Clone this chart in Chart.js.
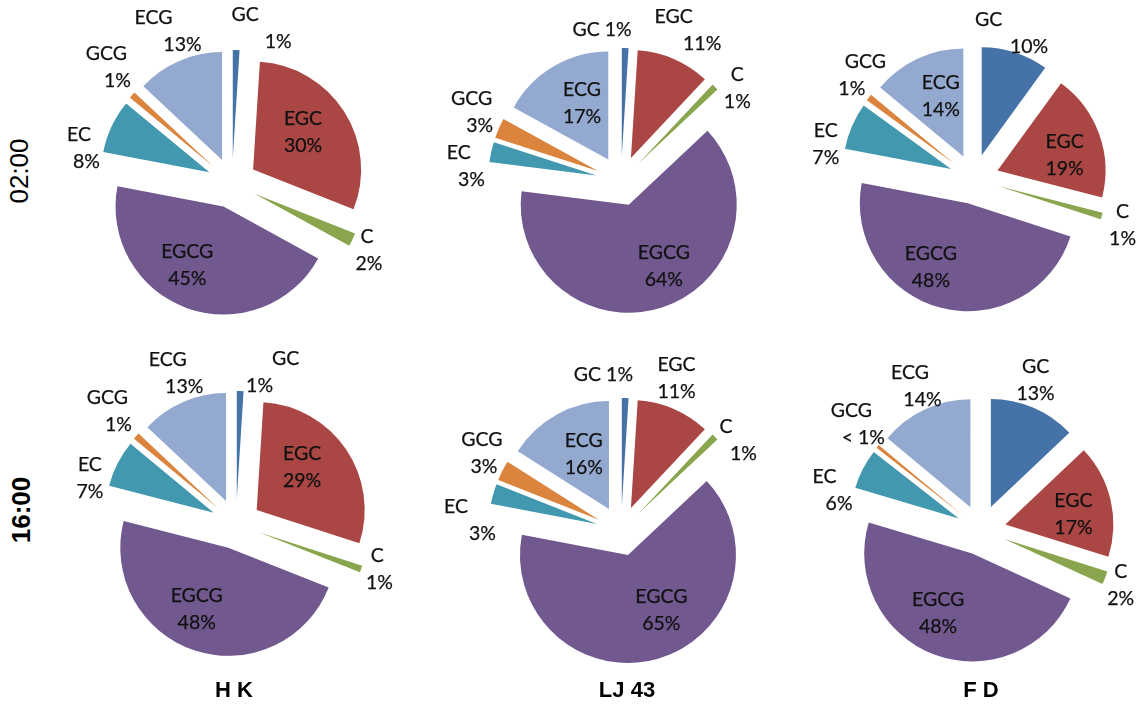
<!DOCTYPE html>
<html>
<head>
<meta charset="utf-8">
<script src="https://cdn.jsdelivr.net/npm/chart.js@4.4.1/dist/chart.umd.min.js"></script>
<style>
html,body{margin:0;padding:0;background:#fff;width:1138px;height:708px;overflow:hidden;}
#stage{position:relative;width:1138px;height:708px;overflow:hidden;}
.pie{position:absolute;}
.layer{position:absolute;left:0;top:0;width:0;height:0;}
.lbl{position:absolute;transform:translate(-50%,-50%);font-family:Lato,"Open Sans",sans-serif;font-size:19.5px;line-height:20px;color:#111;-webkit-text-stroke:0.25px #111;white-space:nowrap;}
.row{position:absolute;font-family:"Liberation Sans",Arial,sans-serif;font-size:26px;color:#000;transform:translate(-50%,-50%) rotate(-90deg);white-space:nowrap;line-height:26px;}
.col{position:absolute;font-family:"Liberation Sans",Arial,sans-serif;font-weight:bold;font-size:22px;color:#000;transform:translate(-50%,-50%);white-space:nowrap;line-height:22px;}
</style>
</head>
<body>
<div id="stage"></div>
<script>
// ---------------- data ----------------
const categories = ['GC', 'EGC', 'C', 'EGCG', 'EC', 'GCG', 'ECG'];
const cultivars = ['H K', 'LJ 43', 'F D'];
const times = ['02:00', '16:00'];

const hk0200 = [1, 30, 2, 45, 8, 1, 13];
const lj0200 = [1, 11, 1, 64, 3, 3, 17];
const fd0200 = [10, 19, 1, 48, 7, 1, 14];
const hk1600 = [1, 29, 1, 48, 7, 1, 13];
const lj1600 = [1, 11, 1, 65, 3, 3, 16];
const fd1600 = [13, 17, 2, 48, 6, 0.5, 14];

// ---------------- style ----------------
const sliceColors = ['#4572A7', '#AA4643', '#89A54E', '#71588F', '#4198AF', '#DB843D', '#93A9CF'];
const RADIUS = 108;
const EXPLODE = 25;
const CANVAS = 360;

// pie centres (layout) and label placement per slice:
// [distance as fraction of radius, angle shift from slice middle (deg), line-2 stagger (px), single line]
const pieCenters = [[232, 183], [621, 181], [974, 179], [236, 524], [621, 531], [981, 530]];
const labelLayouts = [
  [[1.47, 9, 33], [0.815, -3.8, 0], [1.40, 0.7, 2], [0.86, 9, 0], [1.42, -12, 7.5], [1.55, 2.8, 11], [1.53, 0.6, 29]],
  [[1.42, -8.9, 0, true], [1.53, 0.5, 28.5], [1.38, 6.3, 0], [0.88, -8.8, 0], [1.45, -7.1, 12.5], [1.49, 2, 8], [0.815, 4.3, 0]],
  [[1.39, -4.6, 40.5], [0.87, 4.4, 0], [1.44, 1, 0], [0.90, 11.9, 0], [1.41, -10.1, 0], [1.44, 4.3, -13.5], [0.83, 3.5, 0]],
  [[1.45, 11.7, -26], [0.81, -6.7, 0], [1.38, -2.6, 2], [0.86, 7, 0], [1.42, -9.3, 0], [1.55, 1.3, 11], [1.51, 1.8, 16.5]],
  [[1.46, -8.2, 0, true], [1.51, -3.5, 0], [1.35, 6.3, 17.5], [0.82, -10.9, 0], [1.41, -11.7, 26.5], [1.47, 2.6, 2], [0.80, 3.3, 0]],
  [[1.48, -3.3, 0], [0.87, 2.8, 0], [1.39, 0.4, 0], [0.86, 6.9, 0], [1.43, -12.3, 14.5], [1.51, 1.7, 12], [1.47, 1, 12.5]]
];
const pieData = [hk0200, lj0200, fd0200, hk1600, lj1600, fd1600];

const rowLabelPos = [[19, 171, 'normal'], [21, 510, 'bold']];
const colLabelPos = [[234, 690], [627, 690], [981, 690]];

// ---------------- exploded slices ----------------
const ArcEl = (Chart.elements && Chart.elements.ArcElement) || Chart.ArcElement;
const baseArcDraw = ArcEl.prototype.draw;
ArcEl.prototype.draw = function (ctx, area) {
  const mid = (this.startAngle + this.endAngle) / 2;
  ctx.save();
  ctx.translate(Math.cos(mid) * EXPLODE, Math.sin(mid) * EXPLODE);
  baseArcDraw.call(this, ctx, area);
  ctx.restore();
};

function fmtPct(v) { return v < 1 ? '< 1%' : Math.round(v) + '%'; }

const extras = new Map();
const sliceLabelPlugin = {
  id: 'sliceLabels',
  afterDraw(chart) {
    const ex = extras.get(chart.canvas);
    if (!ex) return;
    const layer = ex.layer;
    layer.innerHTML = '';
    const meta = chart.getDatasetMeta(0);
    const vals = chart.data.datasets[0].data;
    meta.data.forEach((arc, i) => {
      const p = arc.getProps(['x', 'y', 'startAngle', 'endAngle', 'outerRadius'], true);
      const [rf, dAng, stagger, inline] = ex.layout[i];
      const a = (p.startAngle + p.endAngle) / 2 + dAng * Math.PI / 180;
      const bx = ex.left + p.x + Math.cos(a) * rf * p.outerRadius;
      const by = ex.top + p.y + Math.sin(a) * rf * p.outerRadius;
      const name = chart.data.labels[i];
      const pct = fmtPct(vals[i]);
      const add = (txt, x, y) => {
        const d = document.createElement('div');
        d.className = 'lbl';
        d.textContent = txt;
        d.style.left = x + 'px';
        d.style.top = y + 'px';
        layer.appendChild(d);
      };
      if (inline) {
        add(name + ' ' + pct, bx, by);
      } else {
        add(name, bx - stagger / 2, by - 13.5);
        add(pct, bx + stagger / 2, by + 13.5);
      }
    });
  }
};

const stage = document.getElementById('stage');

pieData.forEach((vals, k) => {
  const [cx, cy] = pieCenters[k];
  const left = cx - CANVAS / 2, top = cy - CANVAS / 2;
  const cv = document.createElement('canvas');
  cv.className = 'pie';
  cv.width = CANVAS; cv.height = CANVAS;
  cv.style.left = left + 'px';
  cv.style.top = top + 'px';
  cv.style.width = CANVAS + 'px';
  cv.style.height = CANVAS + 'px';
  stage.appendChild(cv);
  const layer = document.createElement('div');
  layer.className = 'layer';
  stage.appendChild(layer);
  extras.set(cv, { layer, layout: labelLayouts[k], left, top });
  new Chart(cv, {
    type: 'pie',
    data: {
      labels: categories,
      datasets: [{
        data: vals,
        backgroundColor: sliceColors,
        borderWidth: 0
      }]
    },
    options: {
      responsive: false,
      animation: false,
      devicePixelRatio: 1,
      radius: RADIUS,
      layout: { padding: 0 },
      plugins: { legend: { display: false }, tooltip: { enabled: false } },
      events: []
    },
    plugins: [sliceLabelPlugin]
  });
});

times.forEach((t, i) => {
  const d = document.createElement('div');
  d.className = 'row';
  d.textContent = t;
  d.style.left = rowLabelPos[i][0] + 'px';
  d.style.top = rowLabelPos[i][1] + 'px';
  d.style.fontWeight = rowLabelPos[i][2];
  stage.appendChild(d);
});
cultivars.forEach((c, i) => {
  const d = document.createElement('div');
  d.className = 'col';
  d.textContent = c;
  d.style.left = colLabelPos[i][0] + 'px';
  d.style.top = colLabelPos[i][1] + 'px';
  stage.appendChild(d);
});
</script>
</body>
</html>
